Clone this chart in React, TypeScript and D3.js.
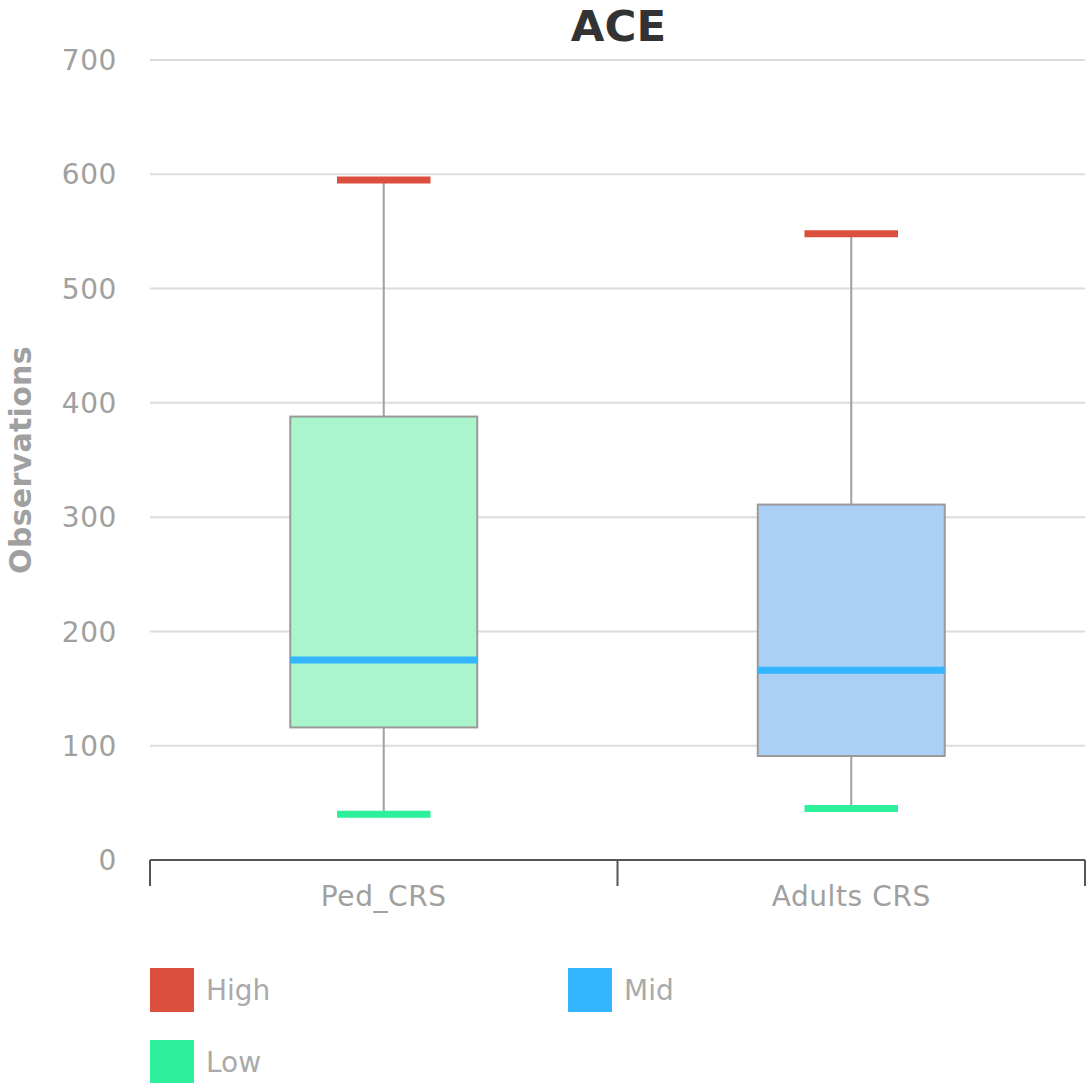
import React from "react";
import * as d3 from "d3";

const categories = ["Ped_CRS", "Adults CRS"];
const highValues = [595, 548];
const q3Values = [388, 311];
const midValues = [175, 166];
const q1Values = [116, 91];
const lowValues = [40, 45];
const boxFills = ["#abf5cc", "#abd0f5"];
const yTicks = [0, 100, 200, 300, 400, 500, 600, 700];
const legendItems = [
  { label: "High", color: "#dc4e3d" },
  { label: "Mid", color: "#33b5ff" },
  { label: "Low", color: "#2ef09a" },
];

const W = 1089;
const H = 1083;
const left = 150;
const right = 1085;
const top = 60;
const bottom = 860;
const font = "'DejaVu Sans', Verdana, sans-serif";

export default function App() {
  const y = d3.scaleLinear().domain([0, 700]).range([bottom, top]);
  const x = d3.scaleBand().domain(categories).range([left, right]).padding(0);
  const bw = x.bandwidth();
  const boxW = bw * 0.4;
  const capW = bw * 0.2;

  return (
    <svg width={W} height={H} style={{ position: "absolute", left: 0, top: 0, background: "#fff" }}>
      <text x={(left + right) / 2 + 1} y={41} textAnchor="middle" fontFamily={font} fontWeight="bold" fontSize={43.5} fill="#333">
        ACE
      </text>
      {yTicks.map((t) => (
        <g key={t}>
          {t > 0 && <line x1={left} x2={right} y1={y(t)} y2={y(t)} stroke="#dcdcdc" strokeWidth={2} />}
          <text x={117} y={y(t)} dy="0.36em" textAnchor="end" fontFamily={font} fontSize={28} letterSpacing={0.6} fill="#a0a0a0">
            {t}
          </text>
        </g>
      ))}
      <text
        transform={`translate(31, ${(top + bottom) / 2}) rotate(-90)`}
        textAnchor="middle"
        fontFamily={font}
        fontWeight="bold"
        fontSize={30}
        letterSpacing={0.3}
        fill="#a0a0a0"
      >
        Observations
      </text>
      {categories.map((c, i) => {
        const cx = x(c)! + bw / 2;
        return (
          <g key={c}>
            <line x1={cx} x2={cx} y1={y(highValues[i])} y2={y(q3Values[i])} stroke="#a0a0a0" strokeWidth={2} />
            <line x1={cx} x2={cx} y1={y(q1Values[i])} y2={y(lowValues[i])} stroke="#a0a0a0" strokeWidth={2} />
            <rect
              x={cx - boxW / 2}
              y={y(q3Values[i])}
              width={boxW}
              height={y(q1Values[i]) - y(q3Values[i])}
              fill={boxFills[i]}
              stroke="#9a9a9a"
              strokeWidth={2}
            />
            <line x1={cx - boxW / 2} x2={cx + boxW / 2} y1={y(midValues[i])} y2={y(midValues[i])} stroke={legendItems[1].color} strokeWidth={7} />
            <line x1={cx - capW / 2} x2={cx + capW / 2} y1={y(highValues[i])} y2={y(highValues[i])} stroke={legendItems[0].color} strokeWidth={7} />
            <line x1={cx - capW / 2} x2={cx + capW / 2} y1={y(lowValues[i])} y2={y(lowValues[i])} stroke={legendItems[2].color} strokeWidth={7} />
            <text x={cx} y={896} dy="0.36em" textAnchor="middle" fontFamily={font} fontSize={28} letterSpacing={0.6} fill="#a0a0a0">
              {c}
            </text>
          </g>
        );
      })}
      <line x1={left} x2={right} y1={bottom} y2={bottom} stroke="#555" strokeWidth={2} />
      {[left, ...categories.map((c) => x(c)! + bw)].map((tx, i) => (
        <line key={i} x1={tx} x2={tx} y1={bottom} y2={bottom + 26} stroke="#555" strokeWidth={2} />
      ))}
      {legendItems.map((it, i) => {
        const lx = i === 1 ? 568 : 150;
        const ly = i === 2 ? 1040 : 968;
        return (
          <g key={it.label}>
            <rect x={lx} y={ly} width={44} height={44} fill={it.color} />
            <text x={lx + 56} y={ly + 22} dy="0.36em" fontFamily={font} fontSize={28} fill="#aaa">
              {it.label}
            </text>
          </g>
        );
      })}
    </svg>
  );
}
